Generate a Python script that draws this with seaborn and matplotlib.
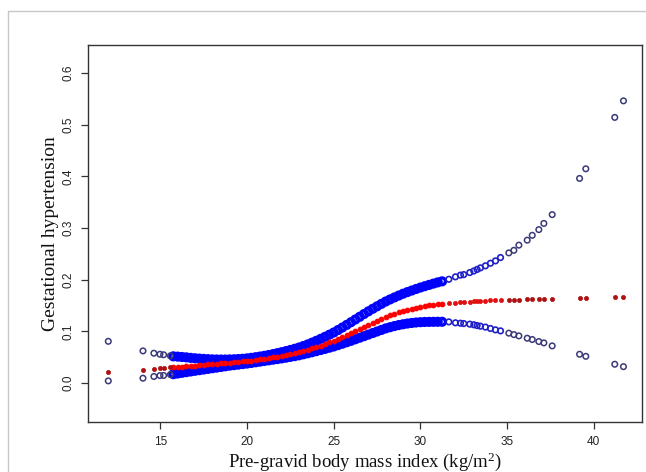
"""
Restricted cubic spline: pre-gravid BMI vs gestational hypertension
fitted probability (red) with 95% CI bounds (blue open circles)
"""

import numpy as np
import pandas as pd
import matplotlib
matplotlib.use("Agg")
import matplotlib.pyplot as plt
from matplotlib.lines import Line2D
import seaborn as sns

# ── data ──────────────────────────────────────────────────────────────────────
bmi = [
    12.0, 14.0, 14.63, 14.98, 15.19, 15.58,
    15.75, 16.0, 16.25, 16.5, 16.75, 17.0, 17.25, 17.5, 17.75, 18.0,
    18.25, 18.5, 18.75, 19.0, 19.25, 19.5, 19.75, 20.0, 20.25, 20.5,
    20.75, 21.0, 21.25, 21.5, 21.75, 22.0, 22.25, 22.5, 22.75, 23.0,
    23.25, 23.5, 23.75, 24.0, 24.25, 24.5, 24.75, 25.0, 25.25, 25.5,
    25.75, 26.0, 26.25, 26.5, 26.75, 27.0, 27.25, 27.5, 27.75, 28.0,
    28.25, 28.5, 28.75, 29.0, 29.25, 29.5, 29.75, 30.0, 30.25, 30.5,
    30.75, 31.0, 31.25,
    31.64, 32.02, 32.31, 32.5, 32.85, 33.08, 33.27, 33.46, 33.75, 34.04,
    34.33, 34.62, 35.1, 35.39, 35.68, 36.16, 36.45, 36.83, 37.12, 37.6,
    39.18, 39.54, 41.21, 41.71,
]

fit = [
    0.0226, 0.0258, 0.027, 0.029, 0.029, 0.031,
    0.0310, 0.0316, 0.0322, 0.0328, 0.0334, 0.0340, 0.0347, 0.0355, 0.0362, 0.0370,
    0.0377, 0.0385, 0.0392, 0.0400, 0.0407, 0.0415, 0.0422, 0.0430, 0.0439, 0.0449,
    0.0459, 0.0470, 0.0484, 0.0498, 0.0513, 0.0530, 0.0546, 0.0563, 0.0581, 0.0600,
    0.0623, 0.0647, 0.0672, 0.0700, 0.0728, 0.0757, 0.0788, 0.0820, 0.0856, 0.0893,
    0.0931, 0.0970, 0.1010, 0.1050, 0.1090, 0.1130, 0.1169, 0.1207, 0.1244, 0.1280,
    0.1312, 0.1343, 0.1372, 0.1400, 0.1423, 0.1444, 0.1463, 0.1480, 0.1494, 0.1507,
    0.1519, 0.1530, 0.1540,
    0.155, 0.156, 0.1565, 0.157, 0.158, 0.1585, 0.159, 0.159, 0.1595, 0.160,
    0.160, 0.1605, 0.161, 0.1612, 0.1615, 0.162, 0.1622, 0.1625, 0.163, 0.1635,
    0.164, 0.1657, 0.1676, 0.1676,
]

upper = [
    0.081, 0.0625, 0.058, 0.056, 0.055, 0.053,
    0.0520, 0.0514, 0.0507, 0.0500, 0.0490, 0.0482, 0.0476, 0.0470, 0.0465, 0.0461,
    0.0459, 0.0458, 0.0458, 0.0460, 0.0463, 0.0467, 0.0473, 0.0480, 0.0491, 0.0503,
    0.0516, 0.0530, 0.0546, 0.0563, 0.0581, 0.0600, 0.0621, 0.0643, 0.0666, 0.0690,
    0.0719, 0.0750, 0.0784, 0.0820, 0.0858, 0.0897, 0.0938, 0.0980, 0.1028, 0.1077,
    0.1128, 0.1180, 0.1233, 0.1285, 0.1338, 0.1390, 0.1439, 0.1487, 0.1534, 0.1580,
    0.1620, 0.1658, 0.1695, 0.1730, 0.1762, 0.1792, 0.1822, 0.1850, 0.1876, 0.1901,
    0.1926, 0.1950, 0.1970,
    0.201, 0.2057, 0.209, 0.210, 0.214, 0.217, 0.220, 0.223, 0.227, 0.232,
    0.2366, 0.243, 0.252, 0.257, 0.267, 0.2766, 0.286, 0.297, 0.309, 0.326,
    0.396, 0.4146, 0.514, 0.546,
]

lower = [
    0.0045, 0.0097, 0.013, 0.0148, 0.015, 0.0168,
    0.0175, 0.0188, 0.0201, 0.0214, 0.0227, 0.0240, 0.0252, 0.0265, 0.0277, 0.0290,
    0.0302, 0.0315, 0.0327, 0.0340, 0.0350, 0.0360, 0.0370, 0.0380, 0.0392, 0.0405,
    0.0417, 0.0430, 0.0442, 0.0455, 0.0467, 0.0480, 0.0494, 0.0509, 0.0524, 0.0540,
    0.0559, 0.0579, 0.0599, 0.0620, 0.0642, 0.0664, 0.0687, 0.0710, 0.0737, 0.0764,
    0.0792, 0.0820, 0.0850, 0.0880, 0.0910, 0.0940, 0.0970, 0.1000, 0.1030, 0.1060,
    0.1083, 0.1105, 0.1124, 0.1140, 0.1154, 0.1165, 0.1174, 0.1180, 0.1184, 0.1186,
    0.1187, 0.1188, 0.1188,
    0.1186, 0.1168, 0.116, 0.1154, 0.1142, 0.113, 0.1115, 0.1103, 0.1085, 0.1058,
    0.1032, 0.1012, 0.0968, 0.094, 0.0915, 0.087, 0.0845, 0.0806, 0.078, 0.0722,
    0.056, 0.052, 0.0367, 0.032,
]

x_ticks = [15, 20, 25, 30, 35, 40]
y_ticks = [0.0, 0.1, 0.2, 0.3, 0.4, 0.5, 0.6]

# ── styling ───────────────────────────────────────────────────────────────────
sns.set_theme(style="white")
plt.rcParams["font.family"] = ["Liberation Sans", "DejaVu Sans"]
plt.rcParams["mathtext.fontset"] = "custom"
plt.rcParams["mathtext.rm"] = "Liberation Serif"
plt.rcParams["mathtext.default"] = "regular"

df = pd.DataFrame({"bmi": bmi, "fit": fit, "upper": upper, "lower": lower})
# the tightly packed run merges into a solid band; the isolated tails look darker
band = (df["bmi"] >= 15.7) & (df["bmi"] <= 31.3)
bright = (df["bmi"] >= 15.7) & (df["bmi"] <= 34.7)
mid = bright & ~band
tail = ~bright

fig = plt.figure(figsize=(6.46, 4.72), dpi=100)
ax = fig.add_axes([88 / 646, 50 / 472, 554 / 646, 377 / 472])

for col in ["upper", "lower"]:
    sns.scatterplot(data=df[band], x="bmi", y=col, ax=ax, s=24,
                    facecolor="none", edgecolor="#0000ff", linewidth=2.4,
                    legend=False)
    sns.scatterplot(data=df[mid], x="bmi", y=col, ax=ax, s=16,
                    facecolor="none", edgecolor="#2020c8", linewidth=1.2,
                    legend=False)
    sns.scatterplot(data=df[tail], x="bmi", y=col, ax=ax, s=16,
                    facecolor="none", edgecolor="#3a3a78", linewidth=1.1,
                    legend=False)

sns.scatterplot(data=df[band], x="bmi", y="fit", ax=ax, s=11, marker="o",
                color="#ff0000", edgecolor="#ff0000", linewidth=0.8, legend=False)
sns.scatterplot(data=df[mid], x="bmi", y="fit", ax=ax, s=9, marker="o",
                color="#e01010", edgecolor="#e01010", linewidth=0.5, legend=False)
sns.scatterplot(data=df[tail], x="bmi", y="fit", ax=ax, s=9, marker="o",
                color="#b01010", edgecolor="#b01010", linewidth=0.5, legend=False)

ax.set_xlim(10.83, 42.78)
ax.set_ylim(-0.075, 0.654)
ax.set_xticks(x_ticks)
ax.set_yticks(y_ticks)
ax.set_xticklabels([str(t) for t in x_ticks], fontsize=8.5)
ax.set_yticklabels([f"{t:.1f}" for t in y_ticks], fontsize=8.5,
                   rotation=90, va="center")
ax.tick_params(axis="both", direction="out", length=5, width=0.9,
               color="#333333", colors="#222222", bottom=True, left=True, pad=5)
for sp in ax.spines.values():
    sp.set_visible(True)
    sp.set_color("#333333")
    sp.set_linewidth(1.0)

ax.set_xlabel("Pre-gravid body mass index (kg/m$^2$)", family="Liberation Serif",
              fontsize=13.5, color="#111111", labelpad=2)
ax.set_ylabel("Gestational hypertension", family="Liberation Serif",
              fontsize=14, color="#111111", labelpad=2)

# light grey frame around the panel
fig.add_artist(Line2D([8 / 646, 8 / 646], [0, 1 - 11 / 472], color="#c8c8c8", lw=1.0))
fig.add_artist(Line2D([8 / 646, 1], [1 - 11 / 472, 1 - 11 / 472], color="#c8c8c8", lw=1.0))

fig.savefig("out.png", dpi=100)
